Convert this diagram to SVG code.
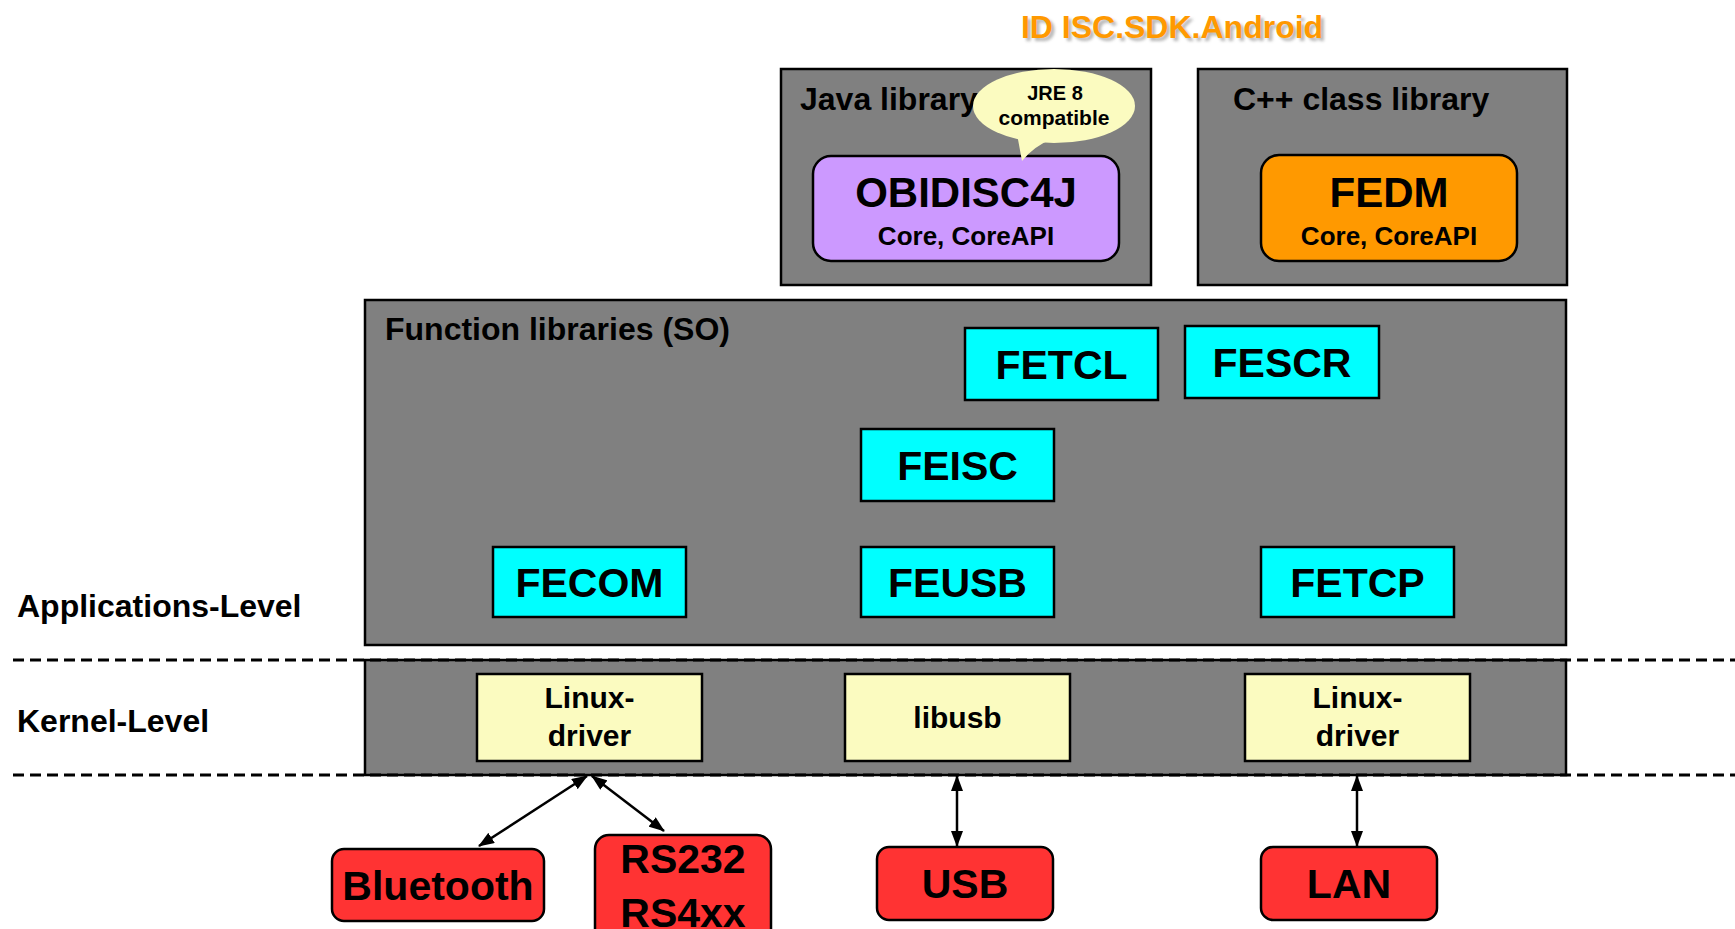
<svg xmlns="http://www.w3.org/2000/svg" width="1735" height="929" viewBox="0 0 1735 929">
<style>
text{font-family:"Liberation Sans",Arial,sans-serif;font-weight:bold;fill:#000}
.panel{fill:#808080;stroke:#000;stroke-width:2.5}
.cyan{fill:#00FFFF;stroke:#000;stroke-width:2.5}
.yel{fill:#FBFBC0;stroke:#000;stroke-width:2.5}
.red{fill:#FF3333;stroke:#000;stroke-width:2.5}
.h{font-size:32px}
.c{text-anchor:middle}
.big{font-size:41px}
.big2{font-size:42px}
.sub{font-size:26px}
.drv{font-size:30px}
.dash{stroke:#000;stroke-width:3;stroke-dasharray:11 6;fill:none}
.conn{stroke:#000;stroke-width:2.5;fill:none;marker-start:url(#ah);marker-end:url(#ah)}
</style>
<defs>
<marker id="ah" viewBox="0 0 16 12" refX="15" refY="6" markerWidth="16" markerHeight="12" markerUnits="userSpaceOnUse" orient="auto-start-reverse">
<path d="M0,0 L16,6 L0,12 z" fill="#000"/>
</marker>
<filter id="blur" x="-10%" y="-30%" width="120%" height="160%"><feGaussianBlur stdDeviation="1.5"/></filter>
</defs>
<rect width="1735" height="929" fill="#fff"/>

<g id="title">
<text x="1175" y="41" class="c" style="font-size:32px;fill:#999;opacity:0.7" filter="url(#blur)">ID ISC.SDK.Android</text>
<text x="1172" y="38" class="c" style="font-size:32px;fill:#FF9900">ID ISC.SDK.Android</text>
</g>

<g id="java-library">
<rect x="781" y="69" width="370" height="216" class="panel"/>
<text x="800" y="110" class="h">Java library</text>
</g>

<g id="obidisc4j">
<rect x="813" y="156" width="306" height="105" rx="18" fill="#CC99FF" stroke="#000" stroke-width="2.5"/>
<text x="966" y="207" class="c big2">OBIDISC4J</text>
<text x="966" y="245" class="c sub">Core, CoreAPI</text>
</g>

<g id="jre-bubble">
<path d="M1017,134 L1022,161 Q1034,146 1052,139 Z" fill="#FBFBC0"/>
<ellipse cx="1054" cy="106" rx="81" ry="37" fill="#FBFBC0"/>
<text x="1055" y="100" class="c" style="font-size:20px">JRE 8</text>
<text x="1054" y="125" class="c" style="font-size:21px">compatible</text>
</g>

<g id="cpp-library">
<rect x="1198" y="69" width="369" height="216" class="panel"/>
<text x="1233" y="110" class="h">C++ class library</text>
</g>

<g id="fedm">
<rect x="1261" y="155" width="256" height="106" rx="18" fill="#FF9900" stroke="#000" stroke-width="2.5"/>
<text x="1389" y="207" class="c big2">FEDM</text>
<text x="1389" y="245" class="c sub">Core, CoreAPI</text>
</g>

<g id="function-libraries">
<rect x="365" y="300" width="1201" height="345" class="panel"/>
<text x="385" y="340" class="h">Function libraries (SO)</text>
</g>

<g id="fetcl">
<rect x="965" y="328" width="193" height="72" class="cyan"/>
<text x="1061.5" y="379" class="c big">FETCL</text>
</g>
<g id="fescr">
<rect x="1185" y="326" width="194" height="72" class="cyan"/>
<text x="1282" y="377" class="c big">FESCR</text>
</g>
<g id="feisc">
<rect x="861" y="429" width="193" height="72" class="cyan"/>
<text x="957.5" y="480" class="c big">FEISC</text>
</g>
<g id="fecom">
<rect x="493" y="547" width="193" height="70" class="cyan"/>
<text x="589.5" y="597" class="c big">FECOM</text>
</g>
<g id="feusb">
<rect x="861" y="547" width="193" height="70" class="cyan"/>
<text x="957.5" y="597" class="c big">FEUSB</text>
</g>
<g id="fetcp">
<rect x="1261" y="547" width="193" height="70" class="cyan"/>
<text x="1357.5" y="597" class="c big">FETCP</text>
</g>

<g id="kernel">
<rect x="365" y="660" width="1201" height="115" class="panel"/>
</g>

<g id="levels">
<text x="17" y="617" class="h">Applications-Level</text>
<text x="17" y="732" class="h">Kernel-Level</text>
<line x1="13" y1="660" x2="1735" y2="660" class="dash"/>
<line x1="13" y1="775" x2="1735" y2="775" class="dash"/>
</g>

<g id="linux-driver-1">
<rect x="477" y="674" width="225" height="87" class="yel"/>
<text x="589.5" y="708" class="c drv">Linux-</text>
<text x="589.5" y="746" class="c drv">driver</text>
</g>
<g id="libusb">
<rect x="845" y="674" width="225" height="87" class="yel"/>
<text x="957.5" y="728" class="c drv">libusb</text>
</g>
<g id="linux-driver-2">
<rect x="1245" y="674" width="225" height="87" class="yel"/>
<text x="1357.5" y="708" class="c drv">Linux-</text>
<text x="1357.5" y="746" class="c drv">driver</text>
</g>

<g id="bluetooth">
<rect x="332" y="849" width="212" height="72" rx="12" class="red"/>
<text x="438" y="900" class="c big">Bluetooth</text>
</g>
<g id="rs232">
<rect x="595" y="835" width="176" height="112" rx="14" class="red"/>
<text x="683" y="873" class="c big">RS232</text>
<text x="683" y="927" class="c big">RS4xx</text>
</g>
<g id="usb">
<rect x="877" y="847" width="176" height="73" rx="12" class="red"/>
<text x="965" y="898" class="c big">USB</text>
</g>
<g id="lan">
<rect x="1261" y="847" width="176" height="73" rx="12" class="red"/>
<text x="1349" y="898" class="c big">LAN</text>
</g>

<g id="connectors">
<line x1="587" y1="776" x2="479" y2="846" class="conn"/>
<line x1="592" y1="776" x2="664" y2="831" class="conn"/>
<line x1="957" y1="776" x2="957" y2="846" class="conn"/>
<line x1="1357" y1="776" x2="1357" y2="846" class="conn"/>
</g>
</svg>
